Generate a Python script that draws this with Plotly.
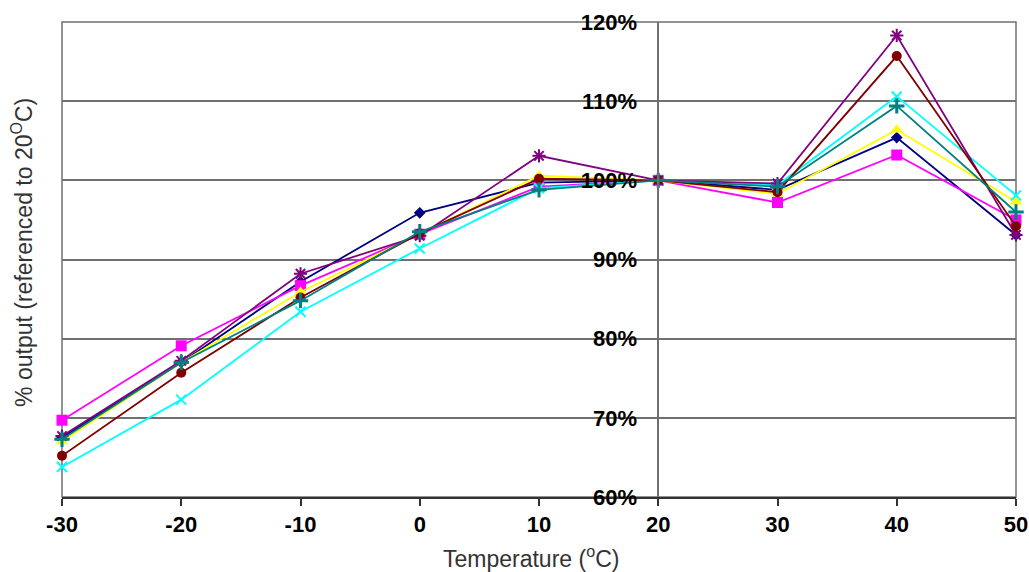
import plotly.graph_objects as go

temps = [-30, -20, -10, 0, 10, 20, 30, 40, 50]

navy_vals = [67.5, 77.0, 87.2, 95.9, 99.7, 100, 98.8, 105.4, 93.1]
magenta_vals = [69.7, 79.1, 86.7, 93.2, 99.2, 100, 97.2, 103.2, 95.0]
yellow_vals = [67.0, 77.0, 85.9, 93.3, 100.6, 100, 98.3, 106.4, 97.3]
cyan_vals = [63.8, 72.3, 83.4, 91.4, 99.0, 100, 99.4, 110.6, 98.1]
purple_vals = [67.7, 77.2, 88.2, 93.0, 103.1, 100, 99.6, 118.3, 93.1]
maroon_vals = [65.2, 75.7, 85.2, 93.3, 100.2, 100, 98.5, 115.7, 94.2]
teal_vals = [67.3, 77.0, 84.8, 93.5, 98.8, 100, 99.2, 109.4, 96.0]

y_ticks = [60, 70, 80, 90, 100, 110, 120]
y_ticktext = ["60%", "70%", "80%", "90%", "100%", "110%", "120%"]
x_ticks = [-30, -20, -10, 0, 10, 20, 30, 40, 50]
x_ticktext = ["-30", "-20", "-10", "0", "10", "20", "30", "40", "50"]

series = [
    ("Series1", navy_vals, "#000080", "diamond", 9, 0),
    ("Series2", magenta_vals, "#FF00FF", "square", 11, 0),
    ("Series3", yellow_vals, "#FFFF00", "triangle-up", 11, 0),
    ("Series4", cyan_vals, "#00FFFF", "x-thin-open", 10, 2),
    ("Series5", purple_vals, "#800080", "asterisk-open", 11, 2),
    ("Series6", maroon_vals, "#800000", "circle", 10, 0),
    ("Series7", teal_vals, "#008080", "cross-thin-open", 11, 3),
]

FONT = "Liberation Sans, Arial, sans-serif"

fig = go.Figure()
for name, vals, color, sym, size, lw in series:
    marker = dict(symbol=sym, size=size, color=color)
    if lw:
        marker["line"] = dict(color=color, width=lw)
    fig.add_trace(go.Scatter(
        x=temps, y=vals, mode="lines+markers", name=name,
        line=dict(color=color, width=1.8), marker=marker, cliponaxis=False,
    ))

fig.update_layout(
    width=1029, height=572,
    margin=dict(l=62, r=13, t=22, b=75, autoexpand=False),
    paper_bgcolor="white", plot_bgcolor="white",
    showlegend=False,
    font=dict(family=FONT, color="black"),
    xaxis=dict(
        range=[-30, 50], tickvals=x_ticks, ticktext=x_ticktext,
        showgrid=False, zeroline=False, automargin=False,
        showline=True, linecolor="#333333", linewidth=1.5,
        ticks="outside", ticklen=7, tickcolor="#333333", tickwidth=1.5,
        tickfont=dict(family=FONT, size=22, color="black", weight="bold"),
    ),
    yaxis=dict(
        range=[60, 120], tickvals=y_ticks, ticktext=y_ticktext,
        anchor="free", position=(20 - (-30)) / 80, side="left",
        showgrid=True, gridcolor="#707070", gridwidth=1.5, zeroline=False,
        automargin=False,
        showline=True, linecolor="#707070", linewidth=1.5, ticks="",
        ticklabelstandoff=16,
        tickfont=dict(family=FONT, size=22, color="black", weight="bold"),
    ),
    shapes=[dict(type="rect", xref="paper", yref="paper", x0=0, y0=0, x1=1, y1=1,
                 line=dict(color="#707070", width=1.5), layer="below")],
    annotations=[
        dict(text="Temperature (<sup>o</sup>C)", xref="paper", yref="paper",
             x=0.4916, y=-0.126, xanchor="center", yanchor="middle", showarrow=False,
             font=dict(family=FONT, size=23, color="#333333")),
        dict(text="% output (referenced to 20<sup>O</sup>C)", xref="paper", yref="paper",
             x=-0.0419, y=0.514, xanchor="center", yanchor="middle", textangle=-90,
             showarrow=False, font=dict(family=FONT, size=23, color="#333333")),
    ],
)

fig.write_html("out.html", config={"displayModeBar": False},
               post_script="document.body.style.margin='0px';document.body.style.overflow='hidden';")
